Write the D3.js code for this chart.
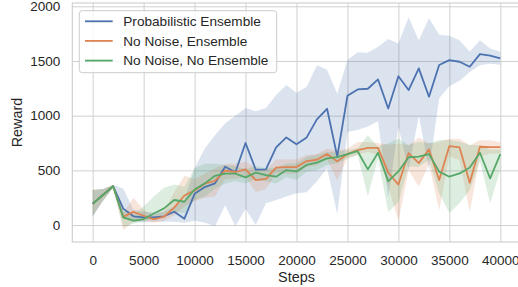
<!DOCTYPE html>
<html>
<head>
<meta charset="utf-8">
<script src="https://cdn.jsdelivr.net/npm/d3@7"></script>
<style>
  body { margin: 0; background: #fff; }
  text { font-family: "Liberation Sans", Arial, sans-serif; fill: #262626; }
</style>
</head>
<body>
<div id="chart"></div>
<script>
// chart data (reward per 1000 steps)
var steps = d3.range(0, 41000, 1000);

var probMean  = [195, 275, 355, 150, 80, 70, 70, 80, 122, 58, 285, 347, 381, 533, 482, 750, 506, 509, 710, 801, 738,
                 801, 966, 1063, 625, 1182, 1240, 1246, 1331, 1066, 1360, 1234, 1432, 1173, 1463, 1508, 1493, 1447, 1563, 1548, 1524];
var probLow   = [80, 220, 340, 60, 30, 30, 30, 30, 30, 20, 40, 20, -10, 180, -10, 150, 0, 200, 230, 260, 290,
                 300, 400, 520, 100, 850, 870, 900, 950, 250, 900, 500, 1000, 500, 1160, 1270, 1320, 1400, 1460, 1475, 1465];
var probHigh  = [320, 330, 365, 335, 140, 122, 115, 122, 170, 230, 520, 700, 820, 930, 1000, 1070, 1040, 1070, 1190, 1280, 1210,
                 1265, 1460, 1420, 1200, 1510, 1580, 1575, 1630, 1700, 1660, 1900, 1690, 1890, 1740, 1730, 1690, 1585, 1690, 1615, 1585];

var ensMean   = [195, 275, 355, 75, 120, 85, 52, 76, 160, 270, 315, 378, 405, 498, 485, 510, 411, 422, 525, 530, 530,
                 585, 597, 649, 582, 649, 686, 705, 705, 480, 370, 658, 566, 692, 411, 722, 710, 387, 716, 712, 712];
var ensLow    = [80, 220, 340, -45, 30, 40, 20, 40, 90, 170, 220, 250, 260, 420, 420, 440, 300, 330, 470, 470, 470,
                 530, 550, 600, 410, 610, 640, 670, 640, 350, 40, 500, 350, 560, 135, 625, 595, 120, 625, 655, 655];
var ensHigh   = [320, 330, 365, 110, 250, 140, 90, 130, 300, 450, 420, 470, 520, 560, 560, 580, 520, 500, 600, 600, 600,
                 640, 650, 700, 680, 700, 760, 760, 750, 735, 745, 730, 800, 745, 760, 790, 790, 730, 775, 775, 760];

var noEnsMean = [195, 275, 355, 70, 40, 55, 105, 152, 229, 213, 325, 381, 450, 470, 470, 436, 479, 457, 442, 503, 490,
                 550, 570, 609, 620, 649, 675, 509, 661, 400, 490, 620, 625, 649, 488, 442, 472, 527, 661, 427, 649];
var noEnsLow  = [80, 220, 340, -15, 15, 30, 61, 91, 122, 107, 230, 260, 330, 380, 400, 380, 420, 400, 380, 440, 411,
                 488, 503, 548, 564, 609, 640, 260, 609, 120, 210, 533, 533, 594, 290, 110, 200, 320, 580, 200, 500];
var noEnsHigh = [320, 330, 365, 150, 100, 170, 260, 340, 370, 350, 520, 560, 560, 550, 540, 510, 540, 520, 520, 560, 564,
                 625, 640, 670, 670, 686, 701, 820, 716, 747, 790, 731, 762, 747, 777, 777, 762, 731, 731, 690, 690];

var seriesNames = ["Probabilistic Ensemble", "No Noise, Ensemble", "No Noise, No Ensemble"];
var seriesColors = ["#4c72b0", "#dd8452", "#55a868"];
var xTicks = [0, 5000, 10000, 15000, 20000, 25000, 30000, 35000, 40000];
var yTicks = [0, 500, 1000, 1500, 2000];

var series = [
    {name: seriesNames[0], color: seriesColors[0], mean: probMean, low: probLow, high: probHigh},
    {name: seriesNames[1], color: seriesColors[1], mean: ensMean, low: ensLow, high: ensHigh},
    {name: seriesNames[2], color: seriesColors[2], mean: noEnsMean, low: noEnsLow, high: noEnsHigh}
];

var svgWidth = 518;
var svgHeight = 287;

// plot box (right edge runs a little past the window, as in the original)
var plotLeft = 72.3, plotRight = 520.7, plotTop = 3, plotBottom = 242;

var svg = d3.select("#chart")
    .append("svg")
    .attr("width", svgWidth)
    .attr("height", svgHeight);

var x = d3.scaleLinear().domain([-2000, 42000]).range([plotLeft, plotRight]);
var y = d3.scaleLinear().domain([-155, 2030]).range([plotBottom, plotTop]);

svg.append("defs").append("clipPath").attr("id", "plotclip")
    .append("rect")
    .attr("x", plotLeft).attr("y", plotTop)
    .attr("width", plotRight - plotLeft).attr("height", plotBottom - plotTop);

// grid + tick labels
var xAxis = svg.append("g")
    .attr("transform", `translate(0, ${plotBottom})`)
    .call(d3.axisBottom(x).tickValues(xTicks).tickFormat(d3.format("d"))
        .tickSizeInner(-(plotBottom - plotTop)).tickSizeOuter(0).tickPadding(13));

var yAxis = svg.append("g")
    .attr("transform", `translate(${plotLeft}, 0)`)
    .call(d3.axisLeft(y).tickValues(yTicks).tickFormat(d3.format("d"))
        .tickSizeInner(-(plotRight - plotLeft)).tickSizeOuter(0).tickPadding(12));

[xAxis, yAxis].forEach(ax => {
    ax.select(".domain").remove();
    ax.selectAll("line").attr("stroke", "#d0d0d0").attr("stroke-width", 1);
    ax.selectAll("text").attr("font-size", "13.5px").attr("fill", "#262626")
        .attr("font-family", "Liberation Sans, Arial, sans-serif");
});

// spines
svg.append("rect")
    .attr("x", plotLeft).attr("y", plotTop)
    .attr("width", plotRight - plotLeft).attr("height", plotBottom - plotTop)
    .attr("fill", "none")
    .attr("stroke", "#cccccc")
    .attr("stroke-width", 1.1);

var plot = svg.append("g").attr("clip-path", "url(#plotclip)");

// shaded bands first, lines on top
var area = d3.area()
    .x((d, i) => x(steps[i]))
    .y0(d => y(d[0]))
    .y1(d => y(d[1]));

series.forEach(s => {
    var band = s.low.map((v, i) => [v, s.high[i]]);
    plot.append("path")
        .datum(band)
        .attr("d", area)
        .attr("fill", s.color)
        .attr("fill-opacity", 0.2)
        .attr("stroke", "none");
});

var line = d3.line()
    .x((d, i) => x(steps[i]))
    .y(d => y(d));

series.forEach(s => {
    plot.append("path")
        .datum(s.mean)
        .attr("d", line)
        .attr("fill", "none")
        .attr("stroke", s.color)
        .attr("stroke-width", 1.8)
        .attr("stroke-linejoin", "round");
});

// axis titles
svg.append("text")
    .attr("x", (plotLeft + plotRight) / 2)
    .attr("y", 282)
    .attr("text-anchor", "middle")
    .attr("font-size", "14.4px")
    .text("Steps");

svg.append("text")
    .attr("transform", `translate(22, ${(plotTop + plotBottom) / 2}) rotate(-90)`)
    .attr("text-anchor", "middle")
    .attr("font-size", "14.4px")
    .text("Reward");

// legend
var legend = svg.append("g");
legend.append("rect")
    .attr("x", 79.3).attr("y", 10.7)
    .attr("width", 197.4).attr("height", 62)
    .attr("rx", 3)
    .attr("fill", "#fff").attr("fill-opacity", 0.8)
    .attr("stroke", "#cccccc");

var rowY = [21.3, 40.9, 60.6];
series.forEach((s, i) => {
    legend.append("line")
        .attr("x1", 85).attr("x2", 112.7)
        .attr("y1", rowY[i]).attr("y2", rowY[i])
        .attr("stroke", s.color)
        .attr("stroke-width", 1.8);
    legend.append("text")
        .attr("x", 123.3)
        .attr("y", rowY[i])
        .attr("dy", "0.35em")
        .attr("font-size", "13.6px")
        .text(s.name);
});
</script>
</body>
</html>
